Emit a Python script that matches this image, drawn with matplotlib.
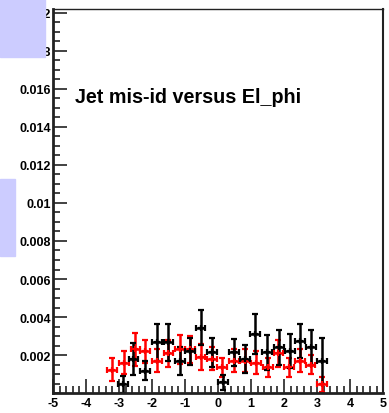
import matplotlib.pyplot as plt
from matplotlib.ticker import MultipleLocator, FixedLocator
from matplotlib.patches import Rectangle

plt.rcParams['font.family'] = ['Liberation Sans', 'DejaVu Sans']
plt.rcParams['font.weight'] = 'bold'

# El_phi bins
red_x = [-3.22, -2.86, -2.50, -2.20, -1.85, -1.50, -1.16, -0.86, -0.53, -0.18,
         0.13, 0.48, 0.81, 1.14, 1.50, 1.83, 2.15, 2.47, 2.80, 3.14]
red_y = [0.00123, 0.0016, 0.0023, 0.0022, 0.0017, 0.0021, 0.0023, 0.0023, 0.0019, 0.0018,
         0.00135, 0.0017, 0.0017, 0.0016, 0.00135, 0.0021, 0.00135, 0.0017, 0.00148, 0.00047]
red_err = [0.0006, 0.0006, 0.00088, 0.0006, 0.0006, 0.0007, 0.00075, 0.0007, 0.0007, 0.0006,
           0.0005, 0.0006, 0.0006, 0.0006, 0.0005, 0.0007, 0.0005, 0.0006, 0.0005, 0.0004]

blk_x = [-2.88, -2.56, -2.20, -1.85, -1.50, -1.16, -0.86, -0.53, -0.18, 0.16,
         0.48, 0.81, 1.11, 1.47, 1.85, 2.18, 2.49, 2.81, 3.14]
blk_y = [0.00047, 0.0018, 0.00117, 0.00267, 0.00267, 0.0017, 0.0022, 0.00345, 0.00214, 0.00056,
         0.00214, 0.00179, 0.0031, 0.00214, 0.0024, 0.0022, 0.00275, 0.0024, 0.0017]
blk_err = [0.00044, 0.00083, 0.0005, 0.00096, 0.00096, 0.00075, 0.0007, 0.00092, 0.00075, 0.0004,
           0.0007, 0.00075, 0.00105, 0.0009, 0.0009, 0.0009, 0.0009, 0.0009, 0.0012]

half_bin = 0.15
yticks = [0.002, 0.004, 0.006, 0.008, 0.01, 0.012, 0.014, 0.016, 0.018, 0.02]
ylabels = ['0.002', '0.004', '0.006', '0.008', '0.01', '0.012', '0.014', '0.016', '0.018', '0.02']

fig = plt.figure(figsize=(3.89, 4.14), dpi=100)
ax = fig.add_axes([0.136, 0.048, 0.849, 0.928])

ax.errorbar(red_x, red_y, yerr=red_err, xerr=half_bin, fmt='+', color='red',
            ms=4, mew=1.6, elinewidth=1.8, capsize=2.5, capthick=1.8)
ax.errorbar(blk_x, blk_y, yerr=blk_err, xerr=half_bin, fmt='+', color='black',
            ms=4, mew=1.6, elinewidth=1.8, capsize=2.5, capthick=1.8)

ax.set_xlim(-5, 5)
ax.set_ylim(0, 0.0202)
ax.xaxis.set_major_locator(MultipleLocator(1))
ax.xaxis.set_minor_locator(MultipleLocator(0.2))
ax.yaxis.set_major_locator(FixedLocator(yticks))
ax.yaxis.set_minor_locator(MultipleLocator(0.0005))
ax.set_yticklabels(ylabels)
ax.set_xticks(range(-5, 6))
ax.set_xticklabels([str(i) for i in range(-5, 6)])

ax.tick_params(which='both', direction='in', top=False, right=False,
               labelsize=9, width=1.2, color='#222222')
ax.tick_params(which='major', length=10)
ax.tick_params(which='minor', length=5)
ax.tick_params(axis='y', which='major', pad=1.5)
ax.tick_params(axis='x', which='major', pad=3)
for lab in ax.get_xticklabels() + ax.get_yticklabels():
    lab.set_fontweight('bold')

ax.spines['left'].set_linewidth(2)
ax.spines['bottom'].set_linewidth(2)
ax.spines['top'].set_linewidth(1)
ax.spines['right'].set_linewidth(1.5)
for s in ax.spines.values():
    s.set_color('#222222')

ax.text(0.066, 0.773, 'Jet mis-id versus El_phi', transform=ax.transAxes,
        fontsize=14.2, fontweight='bold', color='black', va='center')

# lavender overlay boxes
fig.patches.append(Rectangle((0, 1 - 58 / 414), 45 / 389, 58 / 414,
                             transform=fig.transFigure, color='#ccccff', zorder=10))
fig.patches.append(Rectangle((0, 1 - 257 / 414), 15 / 389, 77 / 414,
                             transform=fig.transFigure, color='#ccccff', zorder=10))

fig.savefig('out.png', dpi=100)
